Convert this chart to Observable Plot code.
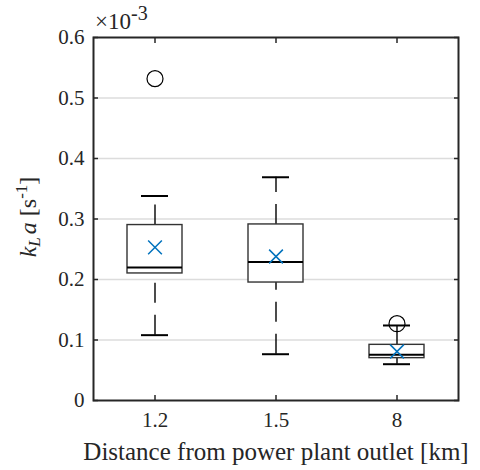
<!DOCTYPE html>
<html>
<head>
<meta charset="utf-8">
<script src="https://cdn.jsdelivr.net/npm/d3@7"></script>
<script src="https://cdn.jsdelivr.net/npm/@observablehq/plot@0.6"></script>
<style>
  html, body { margin: 0; padding: 0; background: #ffffff; }
  #chart { width: 480px; height: 470px; }
</style>
</head>
<body>
<div id="chart"></div>
<script>
// ---- data (values in units of 1e-3 s^-1) ----
const categories   = ["1.2", "1.5", "8"];
const q1           = [0.210, 0.195, 0.070];
const medians      = [0.220, 0.229, 0.0755];
const q3           = [0.290, 0.291, 0.092];
const whiskerLow   = [0.108, 0.0765, 0.060];
const whiskerHigh  = [0.338, 0.369, 0.124];
const means        = [0.253, 0.238, 0.081];
const outlierCategory = ["1.2", "8"];
const outlierValue    = [0.532, 0.127];
const yTicks = [0, 0.1, 0.2, 0.3, 0.4, 0.5, 0.6];
const xTitle = "Distance from power plant outlet [km]";

const rows = categories.map((c, i) => ({
  cat: c, q1: q1[i], med: medians[i], q3: q3[i],
  lo: whiskerLow[i], hi: whiskerHigh[i], mean: means[i]
}));
const outliers = outlierCategory.map((c, i) => ({cat: c, v: outlierValue[i]}));

const FONT = "Liberation Serif";
const AX = "#262626";

const svg = Plot.plot({
  width: 480,
  height: 470,
  marginLeft: 93,
  marginRight: 22,
  marginTop: 37,
  marginBottom: 70,
  style: {background: "#ffffff", color: AX, overflow: "visible"},
  x: {type: "band", domain: categories, padding: 0, label: null},
  y: {domain: [0, 0.6], label: null},
  marks: [
    Plot.gridY(yTicks.slice(1, -1), {stroke: "#dcdcdc", strokeOpacity: 1, strokeWidth: 1.3}),
    // whiskers (dashed, drawn bottom -> top)
    Plot.ruleX(rows, {x: "cat", y1: "lo", y2: "q1", stroke: "#000", strokeWidth: 1.4, strokeDasharray: "20,12"}),
    Plot.ruleX(rows, {x: "cat", y1: "q3", y2: "hi", stroke: "#000", strokeWidth: 1.4, strokeDasharray: "20,12"}),
    // boxes
    Plot.barY(rows, {x: "cat", y1: "q1", y2: "q3", fill: "#ffffff", stroke: "#333333", strokeWidth: 1.4,
      insetLeft: 33, insetRight: 33}),
    // medians
    Plot.tickY(rows, {x: "cat", y: "med", stroke: "#000", strokeWidth: 2, inset: 33}),
    // whisker caps
    Plot.tickY(rows, {x: "cat", y: "lo", stroke: "#000", strokeWidth: 2, inset: 47}),
    Plot.tickY(rows, {x: "cat", y: "hi", stroke: "#000", strokeWidth: 2, inset: 47}),
    // means
    Plot.dot(rows, {x: "cat", y: "mean", symbol: "times", r: 6.3, stroke: "#0072BD", strokeWidth: 1.5}),
    // outliers
    Plot.dot(outliers, {x: "cat", y: "v", r: 8, stroke: "#000", fill: "none", strokeWidth: 1.2}),
    // axes: labels
    Plot.axisY(yTicks, {anchor: "left", tickSize: 0, tickPadding: 9, fontSize: 21, label: null,
      tickFormat: d => d === 0 ? "0" : d.toFixed(1), fill: AX}),
    Plot.axisX({anchor: "bottom", tickSize: 0, tickPadding: 12, fontSize: 21, label: null, fill: AX}),
    // axes: inward ticks
    Plot.axisY(yTicks, {anchor: "left", tickSize: 5, dx: 5, fill: "none", label: null, stroke: AX, strokeWidth: 1.5}),
    Plot.axisY(yTicks, {anchor: "right", tickSize: 5, dx: -5, fill: "none", label: null, stroke: AX, strokeWidth: 1.5}),
    Plot.axisX({anchor: "bottom", tickSize: 5, dy: -5, fill: "none", label: null, stroke: AX, strokeWidth: 1.5}),
    Plot.axisX({anchor: "top", tickSize: 5, dy: 5, fill: "none", label: null, stroke: AX, strokeWidth: 1.5}),
    Plot.frame({stroke: AX, strokeWidth: 2}),
    // x title
    Plot.text([xTitle], {frameAnchor: "bottom", text: d => d, dy: 42, lineAnchor: "top",
      fontSize: 25, fill: AX, textAnchor: "middle"})
  ]
});

// rich-text labels (subscripts / superscripts)
const s = d3.select(svg);
const yl = s.append("text")
  .attr("transform", "translate(36,217) rotate(-90)")
  .attr("text-anchor", "middle")
  .attr("fill", AX)
  .attr("font-size", 24);
yl.append("tspan").attr("font-style", "italic").text("k");
yl.append("tspan").attr("font-style", "italic").attr("font-size", 17).attr("dy", 4).text("L");
yl.append("tspan").attr("font-style", "italic").attr("dy", -4).attr("dx", 3).text("a");
yl.append("tspan").text(" [s");
yl.append("tspan").attr("font-size", 17).attr("dy", -9).text("-1");
yl.append("tspan").attr("dy", 9).text("]");

const ex = s.append("text")
  .attr("x", 95).attr("y", 29)
  .attr("text-anchor", "start")
  .attr("fill", AX)
  .attr("font-size", 23);
ex.append("tspan").text("\u00d710");
ex.append("tspan").attr("font-size", 20).attr("dy", -9).text("-3");

// force the serif family on every text node (attribute + inline !important),
// and re-apply it later in case anything resets it after load
function applyFont() {
  svg.setAttribute("font-family", FONT);
  svg.style.setProperty("font-family", FONT, "important");
  svg.querySelectorAll("g, text, tspan").forEach(el => {
    if (el.getAttribute("font-family") !== FONT) el.setAttribute("font-family", FONT);
    if (el.style.getPropertyValue("font-family") !== FONT) el.style.setProperty("font-family", FONT, "important");
  });
}
applyFont();

document.getElementById("chart").appendChild(svg);
applyFont();
requestAnimationFrame(applyFont);
setTimeout(applyFont, 0);
setTimeout(applyFont, 50);
window.addEventListener("load", () => { applyFont(); setTimeout(applyFont, 20); });
</script>
</body>
</html>
